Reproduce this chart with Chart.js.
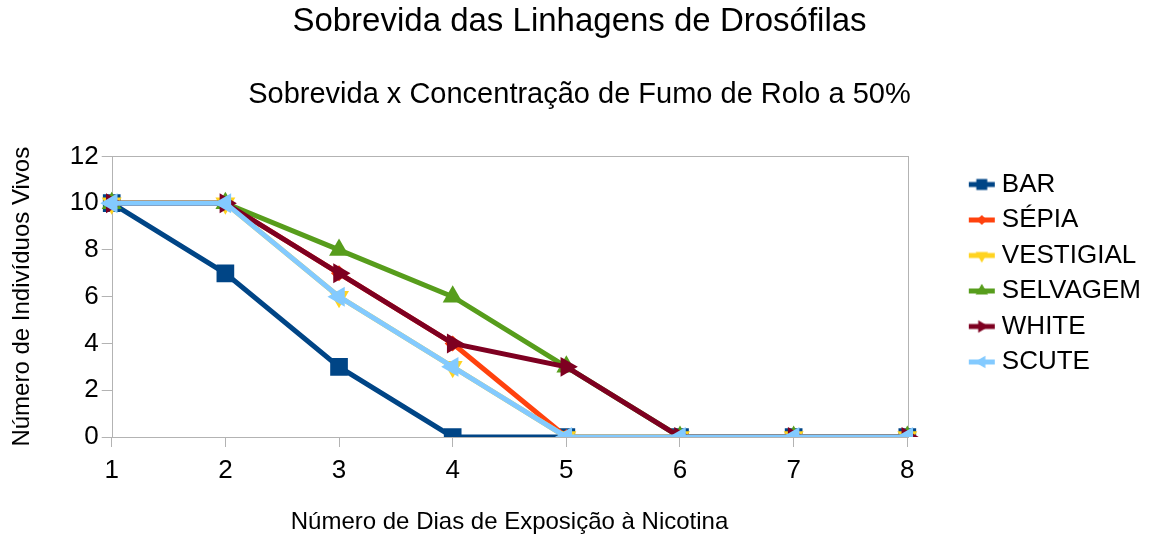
<!DOCTYPE html>
<html>
<head>
<meta charset="utf-8">
<script src="https://cdn.jsdelivr.net/npm/chart.js@4/dist/chart.umd.min.js"></script>
<style>
  body { margin: 0; background: #fff; }
  #wrap { width: 1151px; height: 537px; position: relative; }
</style>
</head>
<body>
<div id="wrap"><canvas id="survivalChart"></canvas></div>
<script>
const days = ['1', '2', '3', '4', '5', '6', '7', '8'];

const bar       = [10, 7, 3, 0, 0, 0, 0, 0];
const sepia     = [10, 10, 7, 4, 0, 0, 0, 0];
const vestigial = [10, 10, 6, 3, 0, 0, 0, 0];
const selvagem  = [10, 10, 8, 6, 3, 0, 0, 0];
const white     = [10, 10, 7, 4, 3, 0, 0, 0];
const scute     = [10, 10, 6, 3, 0, 0, 0, 0];

const seriesNames = ['BAR', 'SÉPIA', 'VESTIGIAL', 'SELVAGEM', 'WHITE', 'SCUTE'];
const seriesData = [bar, sepia, vestigial, selvagem, white, scute];

// look of each series (LibreOffice default palette)
const looks = [
    { color: '#004586', style: 'rect',     rotation: 0,   radius: 12.5 },
    { color: '#ff420e', style: 'rectRot',  rotation: 0,   radius: 8 },
    { color: '#ffd320', style: 'triangle', rotation: 180, radius: 11.5 },
    { color: '#579d1c', style: 'triangle', rotation: 0,   radius: 11.5 },
    { color: '#7e0021', style: 'triangle', rotation: 90,  radius: 11.5 },
    { color: '#83caff', style: 'triangle', rotation: 270, radius: 11.5 }
];

const FONT = "'Liberation Sans', Arial, sans-serif";
const AXIS_GREY = '#b3b3b3';

// small picture for the legend: line with the marker in the middle
function legendSwatch(look) {
    const c = document.createElement('canvas');
    c.width = 120;
    c.height = 26;
    const ctx = c.getContext('2d');
    ctx.strokeStyle = look.color;
    ctx.lineWidth = 5;
    ctx.beginPath();
    ctx.moveTo(76, 13);
    ctx.lineTo(102, 13);
    ctx.stroke();
    ctx.fillStyle = look.color;
    Chart.helpers.drawPoint(ctx, {
        pointStyle: look.style,
        rotation: look.rotation,
        radius: look.radius * 0.62,
        borderWidth: 0
    }, 89, 13);
    return c;
}

const datasets = seriesNames.map(function(name, i) {
    const look = looks[i];
    return {
        label: name,
        data: seriesData[i],
        borderColor: look.color,
        backgroundColor: look.color,
        borderWidth: 5,
        pointStyle: look.style,
        pointRotation: look.rotation,
        pointRadius: look.radius,
        pointHoverRadius: look.radius,
        pointBorderWidth: 0,
        pointBackgroundColor: look.color,
        tension: 0,
        order: seriesNames.length - i   // later series on top
    };
});

const swatches = looks.map(legendSwatch);

const frame = {
    id: 'frame',
    beforeDatasetsDraw(chart) {
        const a = chart.chartArea;
        const ctx = chart.ctx;
        ctx.save();
        ctx.strokeStyle = AXIS_GREY;
        ctx.lineWidth = 1;
        ctx.strokeRect(Math.round(a.left) + 0.5, Math.round(a.top) + 0.5,
            Math.round(a.right - a.left), Math.round(a.bottom - a.top));
        ctx.restore();
    }
};

const ctx = document.getElementById('survivalChart').getContext('2d');
new Chart(ctx, {
    type: 'line',
    data: { labels: days, datasets: datasets },
    plugins: [frame],
    options: {
        responsive: true,
        maintainAspectRatio: false,
        animation: false,
        layout: { padding: { left: 8, bottom: 0, right: 0, top: 0 } },
        scales: {
            x: {
                type: 'category',
                offset: false,
                grid: { drawOnChartArea: false, color: AXIS_GREY, tickLength: 10 },
                border: { display: false },
                ticks: { color: '#000', font: { family: FONT, size: 26 }, padding: 8, maxRotation: 0 },
                title: {
                    display: true,
                    text: 'Número de Dias de Exposição à Nicotina',
                    color: '#000',
                    font: { family: FONT, size: 24 },
                    padding: { top: 14, bottom: 0 }
                }
            },
            y: {
                min: 0,
                max: 12,
                ticks: { stepSize: 2, color: '#000', font: { family: FONT, size: 26 }, padding: 3 },
                grid: { drawOnChartArea: false, color: AXIS_GREY, tickLength: 10 },
                border: { display: false },
                title: {
                    display: true,
                    text: 'Número de Indivíduos Vivos',
                    color: '#000',
                    font: { family: FONT, size: 24 },
                    padding: { top: 0, bottom: 30 }
                }
            }
        },
        plugins: {
            title: {
                display: true,
                text: 'Sobrevida das Linhagens de Drosófilas',
                color: '#000',
                font: { family: FONT, size: 33, weight: 'normal' },
                padding: { top: 2, bottom: 0 }
            },
            subtitle: {
                display: true,
                text: 'Sobrevida x Concentração de Fumo de Rolo a 50%',
                color: '#000',
                font: { family: FONT, size: 29 },
                padding: { top: 36, bottom: 44 }
            },
            legend: {
                position: 'right',
                align: 'start',
                title: { display: true, text: ' ', font: { size: 1, lineHeight: 1 }, padding: { top: 161, bottom: 0 } },
                labels: {
                    usePointStyle: true,
                    pointStyleWidth: 72,
                    padding: 9.5,
                    color: '#000',
                    font: { family: FONT, size: 26 },
                    generateLabels: function(chart) {
                        return chart.data.datasets.map(function(ds, i) {
                            return {
                                text: ds.label,
                                pointStyle: swatches[i],
                                fillStyle: ds.borderColor,
                                strokeStyle: ds.borderColor,
                                lineWidth: 0,
                                fontColor: '#000',
                                hidden: false,
                                datasetIndex: i
                            };
                        });
                    }
                }
            },
            tooltip: { enabled: false }
        }
    }
});
</script>
</body>
</html>
